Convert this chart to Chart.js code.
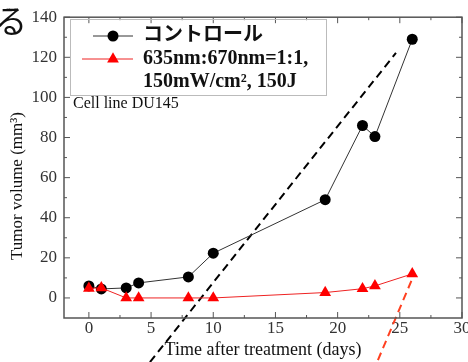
<!DOCTYPE html>
<html>
<head>
<meta charset="utf-8">
<script src="https://cdn.jsdelivr.net/npm/chart.js@4"></script>
<style>
html, body { margin: 0; padding: 0; background: #fff; overflow: hidden; width: 468px; height: 362px; }
#wrap { position: relative; width: 476px; height: 362px; }
#note { position: absolute; left: -5px; top: 3px; font: 32px "Noto Sans CJK JP"; line-height: 1; color: #111; }
</style>
</head>
<body>
<div id="wrap">
  <canvas id="tumorChart" width="476" height="362"></canvas>
  <div id="note">る</div>
</div>
<script>
// days after treatment
const days = [0, 1, 3, 4, 8, 10, 19, 22, 23, 26];
// tumor volume (mm3)
const control = [6, 4.5, 5, 7.5, 10.5, 22.3, 49, 86, 80.5, 129];
const laser = [4.8, 5, 0, 0, 0, 0, 2.7, 4.6, 6, 12];
// dashed pointer lines drawn over the figure (data units)
const arrowBlack = [{x: 4.91, y: -32}, {x: 24.69, y: 122.2}];
const arrowRed = [{x: 23.24, y: -31}, {x: 26.03, y: 10}];

const legendLabels = [['コントロール'], ['635nm:670nm=1:1,', '150mW/cm², 150J']];
const cellLine = 'Cell line DU145';
const xTitle = 'Time after treatment (days)';
const yTitle = 'Tumor volume (mm³)';

const serif = '"Liberation Serif", "Times New Roman", serif';

// frame, inward ticks, legend and extra text
const decorations = {
    id: 'decorations',
    afterDraw(chart) {
        const ctx = chart.ctx;
        const a = chart.chartArea;
        const xs = chart.scales.x, ys = chart.scales.y;
        ctx.save();
        ctx.strokeStyle = '#555';
        ctx.lineWidth = 1.5;
        ctx.strokeRect(a.left, a.top, a.right - a.left, a.bottom - a.top);

        ctx.lineWidth = 1;
        const xMajor = xs.ticks.map(t => t.value);
        xMajor.forEach((v, i) => {
            const px = xs.getPixelForValue(v);
            ctx.beginPath();
            ctx.moveTo(px, a.bottom); ctx.lineTo(px, a.bottom - 6);
            ctx.moveTo(px, a.top); ctx.lineTo(px, a.top + 6);
            if (i < xMajor.length - 1) {
                const pm = xs.getPixelForValue((v + xMajor[i + 1]) / 2);
                ctx.moveTo(pm, a.bottom); ctx.lineTo(pm, a.bottom - 3);
                ctx.moveTo(pm, a.top); ctx.lineTo(pm, a.top + 3);
            }
            ctx.stroke();
        });
        const yMajor = ys.ticks.map(t => t.value);
        yMajor.forEach((v, i) => {
            const py = ys.getPixelForValue(v);
            ctx.beginPath();
            ctx.moveTo(a.left, py); ctx.lineTo(a.left + 6, py);
            ctx.moveTo(a.right, py); ctx.lineTo(a.right - 6, py);
            if (i < yMajor.length - 1) {
                const pm = ys.getPixelForValue((v + yMajor[i + 1]) / 2);
                ctx.moveTo(a.left, pm); ctx.lineTo(a.left + 3, pm);
                ctx.moveTo(a.right, pm); ctx.lineTo(a.right - 3, pm);
            }
            ctx.stroke();
        });

        // legend box
        ctx.strokeStyle = '#bbb';
        ctx.lineWidth = 1;
        ctx.strokeRect(70.5, 19.5, 256, 76);
        const ds = chart.data.datasets;
        const rows = [{y: 36, from: 93}, {y: 59, from: 82}];
        rows.forEach((r, i) => {
            const d = ds[i];
            ctx.strokeStyle = d.borderColor;
            ctx.lineWidth = 1;
            ctx.beginPath();
            ctx.moveTo(r.from, r.y); ctx.lineTo(133, r.y);
            ctx.stroke();
            ctx.fillStyle = d.pointBackgroundColor;
            ctx.beginPath();
            const rr = d.pointRadius;
            if (d.pointStyle === 'circle') {
                ctx.arc(113, r.y, rr, 0, Math.PI * 2);
            } else {
                ctx.moveTo(113, r.y - rr);
                ctx.lineTo(113 + rr * 0.866, r.y + rr / 2);
                ctx.lineTo(113 - rr * 0.866, r.y + rr / 2);
                ctx.closePath();
            }
            ctx.fill();
            ctx.fillStyle = '#111';
            ctx.font = 'bold 20px ' + serif + ', "Noto Sans CJK JP"';
            ctx.textBaseline = 'middle';
            ctx.textAlign = 'left';
            legendLabels[i].forEach((t, k) => ctx.fillText(t, 143, r.y + k * 23));
        });

        // cell line note
        ctx.font = '16px ' + serif;
        ctx.fillStyle = '#111';
        ctx.textBaseline = 'middle';
        ctx.fillText(cellLine, 73, 104);

        // y title
        ctx.translate(18, 186);
        ctx.rotate(-Math.PI / 2);
        ctx.textAlign = 'center';
        ctx.font = '17px ' + serif;
        ctx.fillText(yTitle, 0, 0);
        ctx.restore();
    }
};

const ctxTumor = document.getElementById('tumorChart').getContext('2d');
new Chart(ctxTumor, {
    type: 'line',
    data: {
        datasets: [{
            label: 'コントロール',
            data: days.map((d, i) => ({x: d, y: control[i]})),
            borderColor: '#333',
            borderWidth: 1,
            pointStyle: 'circle',
            pointRadius: 5.5,
            pointBackgroundColor: '#000',
            pointBorderColor: '#000',
            pointBorderWidth: 0,
            order: 1
        }, {
            label: '635nm:670nm=1:1, 150mW/cm², 150J',
            data: days.map((d, i) => ({x: d, y: laser[i]})),
            borderColor: '#e22',
            borderWidth: 1,
            pointStyle: 'triangle',
            pointRadius: 6.8,
            pointBackgroundColor: '#f00',
            pointBorderColor: '#f00',
            pointBorderWidth: 0,
            order: 0
        }, {
            data: arrowBlack,
            borderColor: '#000',
            borderWidth: 2,
            borderDash: [8, 5],
            pointRadius: 0,
            clip: false,
            order: 2
        }, {
            data: arrowRed,
            borderColor: '#ff4020',
            borderWidth: 2,
            borderDash: [8, 5],
            pointRadius: 0,
            clip: false,
            order: 2
        }]
    },
    options: {
        responsive: false,
        animation: false,
        layout: {padding: {top: 13, right: 14, bottom: 0, left: 0}},
        plugins: {legend: {display: false}, tooltip: {enabled: false}},
        scales: {
            x: {
                type: 'linear',
                min: -2,
                max: 30,
                afterFit: s => { s.height = 44; },
                ticks: {stepSize: 5, includeBounds: false, padding: 0, color: '#333', font: {family: serif, size: 17}},
                grid: {drawOnChartArea: false, drawTicks: false},
                border: {display: false},
                title: {display: true, text: xTitle, color: '#111', font: {family: serif, size: 18}, padding: {top: 0, bottom: 1}}
            },
            y: {
                min: -10,
                max: 140,
                afterFit: s => { s.width = 64; },
                ticks: {stepSize: 20, includeBounds: false, padding: 7, color: '#333', font: {family: serif, size: 17}},
                grid: {drawOnChartArea: false, drawTicks: false},
                border: {display: false}
            }
        }
    },
    plugins: [decorations]
});
</script>
</body>
</html>
